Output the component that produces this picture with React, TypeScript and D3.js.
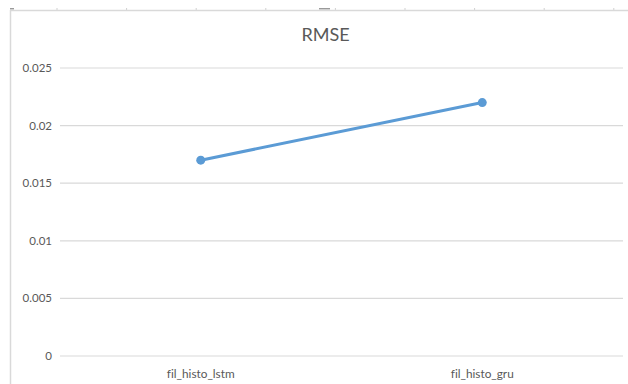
import React from "react";
import * as d3 from "d3";

// Model names and their RMSE scores
const categories: string[] = ["fil_histo_lstm", "fil_histo_gru"];
const rmseValues: number[] = [0.017, 0.022];
const yTicks: number[] = [0, 0.005, 0.01, 0.015, 0.02, 0.025];
const chartTitle = "RMSE";

const W = 628;
const H = 384;
const FONT = "Lato, 'Open Sans', sans-serif";
const TEXT = "#595959";
const GRID = "#d9d9d9";
const LINE = "#5b9bd5";
const noLig = { fontVariantLigatures: "none" as const };

export default function App() {
  const x = d3.scalePoint<string>().domain(categories).range([60, 623]).padding(0.5);
  const y = d3.scaleLinear().domain([0, 0.025]).range([356, 68]);

  const pts = categories.map((c, i) => ({ c, v: rmseValues[i] }));
  const line = d3
    .line<{ c: string; v: number }>()
    .x((d) => x(d.c) as number)
    .y((d) => y(d.v));

  // spreadsheet column markers above the chart frame
  const colMarks = d3.range(9).map((i) => 57 + i * 69.6);

  return (
    <svg
      width={W}
      height={H}
      style={{ position: "absolute", left: 0, top: 0, display: "block", background: "#fff" }}
    >
      {/* sheet header strip */}
      {colMarks.map((cx, i) => (
        <line key={i} x1={cx} x2={cx} y1={8} y2={10} stroke="#cfcfcf" strokeWidth={1} />
      ))}
      <rect x={10} y={8} width={4} height={1.5} fill="#9a9a9a" />
      <rect x={319} y={8} width={11} height={1.5} fill="#9a9a9a" />

      {/* chart frame */}
      <line x1={10} x2={W} y1={10.5} y2={10.5} stroke={GRID} strokeWidth={1.5} />
      <line x1={10.5} x2={10.5} y1={10} y2={H} stroke={GRID} strokeWidth={1.5} />

      <text x={325.5} y={40.7} textAnchor="middle" fontFamily={FONT} fontSize={18} fill={TEXT}>
        {chartTitle}
      </text>

      {/* gridlines and y labels */}
      {yTicks.map((t) => (
        <g key={t}>
          <line x1={60} x2={623} y1={y(t)} y2={y(t)} stroke={GRID} strokeWidth={1.2} />
          <text
            x={52}
            y={y(t) + 4}
            textAnchor="end"
            fontFamily={FONT}
            fontSize={11.5}
            fill={TEXT}
          >
            {String(t)}
          </text>
        </g>
      ))}

      {/* category labels */}
      {categories.map((c) => (
        <text
          key={c}
          x={x(c) as number}
          y={377.5}
          textAnchor="middle"
          fontFamily={FONT}
          fontSize={11.8}
          fill={TEXT}
          style={noLig}
        >
          {c}
        </text>
      ))}

      {/* series */}
      <path d={line(pts) || ""} fill="none" stroke={LINE} strokeWidth={3} strokeLinecap="round" />
      {pts.map((p) => (
        <circle key={p.c} cx={x(p.c) as number} cy={y(p.v)} r={4.5} fill={LINE} />
      ))}
    </svg>
  );
}
